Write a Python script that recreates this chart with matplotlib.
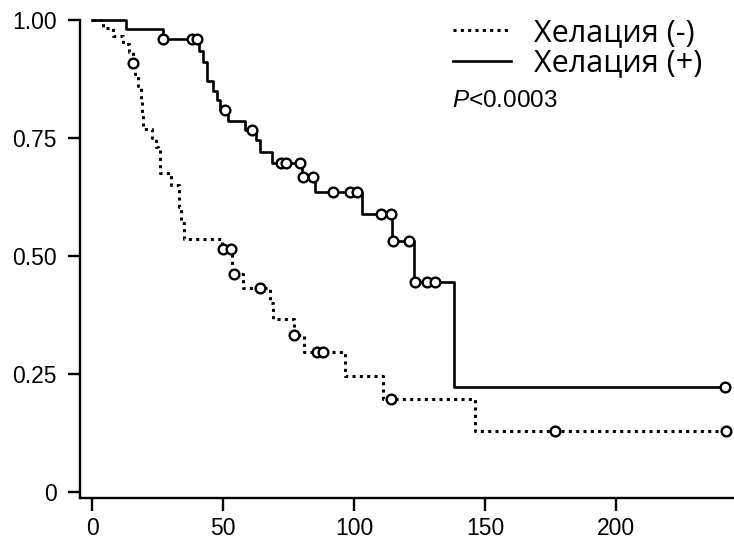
import matplotlib
matplotlib.use('Agg')
import matplotlib.pyplot as plt

# Хелация (-) : step times and survival after each drop
neg_t = [0, 4, 8, 12, 14, 15.6, 16.5, 17.5, 18.5, 19, 19.5, 23, 24.5, 25, 26, 30, 33, 34, 35,
         49.5, 53.5, 57.6, 68, 69, 77, 81, 96.6, 111, 146, 243]
neg_s = [1.0, 0.983, 0.967, 0.95, 0.933, 0.909, 0.885, 0.86, 0.83, 0.80, 0.77, 0.75, 0.73, 0.725, 0.676,
         0.651, 0.603, 0.57, 0.537, 0.514, 0.461, 0.433, 0.40, 0.366, 0.333, 0.296, 0.245, 0.197, 0.129, 0.129]
neg_cens_t = [15.6, 50, 53.2, 54, 64, 77, 86, 88, 114, 176.7, 242]
neg_cens_s = [0.909, 0.514, 0.514, 0.461, 0.433, 0.333, 0.296, 0.296, 0.197, 0.129, 0.129]

# Хелация (+)
pos_t = [0, 13, 27, 41, 42.5, 44, 46, 47.5, 49, 52, 58.5, 62.5, 64, 68.7, 80, 85, 103, 114.5,
         123, 138.2, 243]
pos_s = [1.0, 0.98, 0.96, 0.935, 0.91, 0.87, 0.85, 0.83, 0.81, 0.787, 0.767, 0.745, 0.72, 0.698,
         0.668, 0.636, 0.588, 0.531, 0.444, 0.222, 0.222]
pos_cens_t = [27, 38, 40, 50.8, 61, 72, 74, 79.4, 80.5, 84.4, 92, 98.5, 101, 110.3, 114.2,
              114.9, 121, 123.3, 127.9, 131, 241.5]
pos_cens_s = [0.96, 0.96, 0.96, 0.81, 0.767, 0.698, 0.698, 0.698, 0.668, 0.668, 0.636, 0.636,
              0.636, 0.588, 0.588, 0.531, 0.531, 0.444, 0.444, 0.444, 0.222]

xticks = [0, 50, 100, 150, 200]
yticks = [0, 0.25, 0.50, 0.75, 1.00]
ylabels = ['0', '0.25', '0.50', '0.75', '1.00']

plt.rcParams['font.family'] = ['Liberation Sans', 'DejaVu Sans']
plt.rcParams['mathtext.fontset'] = 'custom'
plt.rcParams['mathtext.it'] = 'Liberation Sans:italic'
plt.rcParams['mathtext.rm'] = 'Liberation Sans'

fig = plt.figure(figsize=(7.34, 5.42), dpi=100)
# axes box: left spine at px 80, right edge 734, top 20, bottom 498
ax = fig.add_axes([80 / 734, (542 - 498) / 542, (734 - 80) / 734, (498 - 20) / 542])

l1, = ax.step(neg_t, neg_s, where='post', color='black', lw=2.2,
              linestyle=(0, (1, 1.4)), clip_on=False)
l2, = ax.step(pos_t, pos_s, where='post', color='black', lw=1.9, clip_on=False)
ax.plot(neg_cens_t, neg_cens_s, 'o', ms=7, mfc='white', mec='black', mew=1.7, clip_on=False)
ax.plot(pos_cens_t, pos_cens_s, 'o', ms=7, mfc='white', mec='black', mew=1.7, clip_on=False)

ax.set_xlim(-4.6, 245)
ax.set_ylim(-0.0127, 1.0)
ax.set_xticks(xticks)
ax.set_yticks(yticks)
ax.set_yticklabels(ylabels)
ax.spines['top'].set_visible(False)
ax.spines['right'].set_visible(False)
ax.spines['left'].set_linewidth(1.7)
ax.spines['bottom'].set_linewidth(1.7)
ax.tick_params(axis='both', width=1.7, length=9, labelsize=16.5, colors='black')
ax.tick_params(axis='y', pad=8)
ax.tick_params(axis='x', pad=5)

leg = fig.legend([l1, l2], ['Хелация (-)', 'Хелация (+)'], loc='upper left',
                 bbox_to_anchor=(453 / 734, 1 - 18 / 542), frameon=False, handlelength=1.9,
                 handletextpad=0.75, labelspacing=0.02, borderaxespad=0, borderpad=0,
                 prop={'family': 'Open Sans', 'size': 22})
fig.text(452 / 734, 1 - 101 / 542, '$P$<0.0003', fontsize=17.5, ha='left', va='center')

plt.savefig('out.png', dpi=100)
